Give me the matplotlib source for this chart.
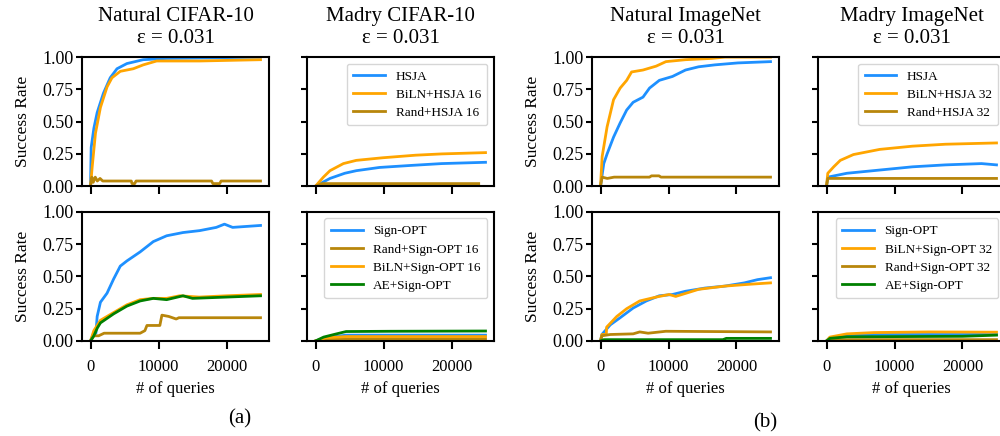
import matplotlib.pyplot as plt

plt.rcParams['font.family'] = ['Liberation Serif', 'DejaVu Serif']

BLUE = '#1E90FF'
ORANGE = '#FFA500'
GOLD = '#B8860B'
GREEN = '#008000'

# ---- (a) Natural CIFAR-10, HSJA family ----
nc_hsja_x = [0, 100, 500, 980, 1900, 2900, 3900, 5350, 7750, 11200, 25000]
nc_hsja_y = [0, 0.30, 0.45, 0.57, 0.72, 0.84, 0.91, 0.95, 0.98, 0.99, 1.00]
nc_biln_x = [0, 250, 730, 1460, 2440, 3160, 4380, 6300, 7760, 9730, 16060, 25000]
nc_biln_y = [0, 0.15, 0.41, 0.61, 0.77, 0.84, 0.89, 0.91, 0.94, 0.97, 0.97, 0.98]
nc_rand_x = [0, 200, 400, 700, 1000, 1400, 1800, 6000, 6100, 6500, 6700, 17800, 18000, 19000, 19200, 25000]
nc_rand_y = [0, 0.07, 0.03, 0.07, 0.04, 0.06, 0.04, 0.04, 0.02, 0.02, 0.04, 0.04, 0.02, 0.02, 0.04, 0.04]

# ---- (a) Natural CIFAR-10, Sign-OPT family ----
nc_sopt_x = [0, 490, 800, 980, 1460, 2430, 3400, 4380, 5350, 7300, 9240, 11200, 13600, 16060, 18500, 19700, 20900, 25000]
nc_sopt_y = [0, 0.06, 0.06, 0.19, 0.30, 0.37, 0.48, 0.58, 0.62, 0.69, 0.77, 0.815, 0.84, 0.855, 0.88, 0.905, 0.88, 0.895]
nc_srand_x = [0, 500, 1200, 2000, 7300, 8000, 8300, 10200, 10500, 11500, 12600, 13000, 25000]
nc_srand_y = [0, 0.04, 0.04, 0.06, 0.06, 0.08, 0.12, 0.12, 0.20, 0.19, 0.17, 0.18, 0.18]
nc_sbiln_x = [0, 490, 1460, 3400, 5350, 7300, 9240, 11200, 13100, 16000, 20000, 25000]
nc_sbiln_y = [0, 0.08, 0.16, 0.22, 0.28, 0.32, 0.33, 0.33, 0.35, 0.34, 0.35, 0.36]
nc_sae_x = [0, 490, 1000, 1460, 3400, 5350, 7300, 9240, 11200, 13600, 15000, 20000, 25000]
nc_sae_y = [0, 0.04, 0.10, 0.14, 0.21, 0.27, 0.31, 0.33, 0.32, 0.35, 0.33, 0.34, 0.35]

# ---- (a) Madry CIFAR-10 ----
mc_hsja_x = [0, 2130, 4300, 6000, 9400, 13800, 18550, 25000]
mc_hsja_y = [0, 0.06, 0.10, 0.12, 0.145, 0.16, 0.175, 0.185]
mc_biln_x = [0, 1160, 2130, 4100, 6000, 9860, 14700, 18550, 25000]
mc_biln_y = [0, 0.07, 0.12, 0.175, 0.20, 0.22, 0.24, 0.25, 0.26]
mc_rand_x = [0, 1000, 24000]
mc_rand_y = [0, 0.02, 0.02]
mc_sopt_x = [0, 1500, 4500, 11000, 25000]
mc_sopt_y = [0, 0.025, 0.045, 0.045, 0.045]
mc_srand_x = [0, 1500, 25000]
mc_srand_y = [0, 0.016, 0.016]
mc_sbiln_x = [0, 1500, 4500, 25000]
mc_sbiln_y = [0, 0.025, 0.034, 0.034]
mc_sae_x = [0, 1200, 3100, 4500, 11000, 25000]
mc_sae_y = [0, 0.03, 0.055, 0.073, 0.075, 0.077]

# ---- (b) Natural ImageNet ----
ni_hsja_x = [0, 480, 970, 1920, 2890, 3850, 4800, 6250, 7210, 8650, 10580, 12500, 14430, 16830, 20200, 25000]
ni_hsja_y = [0, 0.175, 0.25, 0.38, 0.49, 0.59, 0.65, 0.69, 0.76, 0.82, 0.85, 0.90, 0.925, 0.94, 0.955, 0.965]
ni_biln_x = [0, 245, 970, 1920, 2890, 3850, 4570, 6250, 8180, 9620, 12500, 16350, 18300, 25000]
ni_biln_y = [0, 0.23, 0.46, 0.67, 0.76, 0.82, 0.885, 0.90, 0.93, 0.965, 0.98, 0.99, 1.0, 1.0]
ni_rand_x = [0, 245, 1000, 2000, 7200, 7500, 8600, 8900, 25000]
ni_rand_y = [0, 0.07, 0.06, 0.07, 0.07, 0.08, 0.08, 0.07, 0.07]
ni_sopt_x = [0, 200, 1440, 2890, 4800, 6740, 8650, 10580, 12500, 15390, 18280, 21160, 23090, 25000]
ni_sopt_y = [0, 0.05, 0.125, 0.18, 0.255, 0.31, 0.35, 0.36, 0.385, 0.41, 0.425, 0.45, 0.475, 0.49]
ni_srand_x = [0, 200, 1440, 4800, 5770, 7000, 9600, 25000]
ni_srand_y = [0, 0.04, 0.05, 0.055, 0.07, 0.06, 0.075, 0.07]
ni_sbiln_x = [0, 200, 850, 900, 2400, 3850, 5770, 8180, 10100, 11060, 14430, 18280, 22120, 25000]
ni_sbiln_y = [0, 0.05, 0.05, 0.107, 0.19, 0.25, 0.31, 0.34, 0.36, 0.345, 0.40, 0.425, 0.44, 0.45]
ni_sae_x = [0, 500, 18000, 18500, 25000]
ni_sae_y = [0, 0.01, 0.01, 0.02, 0.02]

# ---- (b) Madry ImageNet ----
mi_hsja_x = [0, 190, 3000, 7830, 12650, 17490, 22800, 25000]
mi_hsja_y = [0, 0.07, 0.10, 0.125, 0.15, 0.165, 0.175, 0.165]
mi_biln_x = [0, 190, 1060, 2030, 3960, 7830, 12650, 17490, 25000]
mi_biln_y = [0, 0.10, 0.15, 0.20, 0.245, 0.285, 0.31, 0.325, 0.335]
mi_rand_x = [0, 190, 25000]
mi_rand_y = [0, 0.06, 0.06]
mi_sopt_x = [0, 500, 3000, 7000, 25000]
mi_sopt_y = [0, 0.025, 0.04, 0.05, 0.05]
mi_sbiln_x = [0, 500, 3000, 7000, 15000, 25000]
mi_sbiln_y = [0, 0.03, 0.055, 0.065, 0.07, 0.068]
mi_srand_x = [0, 500, 25000]
mi_srand_y = [0, 0.01, 0.01]
mi_sae_x = [0, 500, 3000, 20000, 25000]
mi_sae_y = [0, 0.02, 0.032, 0.036, 0.045]

titles = ['Natural CIFAR-10\nε = 0.031', 'Madry CIFAR-10\nε = 0.031',
          'Natural ImageNet\nε = 0.031', 'Madry ImageNet\nε = 0.031']
xticks = [0, 10000, 20000]
yticks = [0, 0.25, 0.5, 0.75, 1.0]

# (col, row) -> list of (x, y, color, label)
panels = {
    (0, 0): [(nc_hsja_x, nc_hsja_y, BLUE, 'HSJA'),
             (nc_biln_x, nc_biln_y, ORANGE, 'BiLN+HSJA 16'),
             (nc_rand_x, nc_rand_y, GOLD, 'Rand+HSJA 16')],
    (1, 0): [(mc_hsja_x, mc_hsja_y, BLUE, 'HSJA'),
             (mc_biln_x, mc_biln_y, ORANGE, 'BiLN+HSJA 16'),
             (mc_rand_x, mc_rand_y, GOLD, 'Rand+HSJA 16')],
    (0, 1): [(nc_sopt_x, nc_sopt_y, BLUE, 'Sign-OPT'),
             (nc_srand_x, nc_srand_y, GOLD, 'Rand+Sign-OPT 16'),
             (nc_sbiln_x, nc_sbiln_y, ORANGE, 'BiLN+Sign-OPT 16'),
             (nc_sae_x, nc_sae_y, GREEN, 'AE+Sign-OPT')],
    (1, 1): [(mc_sopt_x, mc_sopt_y, BLUE, 'Sign-OPT'),
             (mc_srand_x, mc_srand_y, GOLD, 'Rand+Sign-OPT 16'),
             (mc_sbiln_x, mc_sbiln_y, ORANGE, 'BiLN+Sign-OPT 16'),
             (mc_sae_x, mc_sae_y, GREEN, 'AE+Sign-OPT')],
    (2, 0): [(ni_hsja_x, ni_hsja_y, BLUE, 'HSJA'),
             (ni_biln_x, ni_biln_y, ORANGE, 'BiLN+HSJA 32'),
             (ni_rand_x, ni_rand_y, GOLD, 'Rand+HSJA 32')],
    (3, 0): [(mi_hsja_x, mi_hsja_y, BLUE, 'HSJA'),
             (mi_biln_x, mi_biln_y, ORANGE, 'BiLN+HSJA 32'),
             (mi_rand_x, mi_rand_y, GOLD, 'Rand+HSJA 32')],
    (2, 1): [(ni_sopt_x, ni_sopt_y, BLUE, 'Sign-OPT'),
             (ni_sbiln_x, ni_sbiln_y, ORANGE, 'BiLN+Sign-OPT 32'),
             (ni_srand_x, ni_srand_y, GOLD, 'Rand+Sign-OPT 32'),
             (ni_sae_x, ni_sae_y, GREEN, 'AE+Sign-OPT')],
    (3, 1): [(mi_sopt_x, mi_sopt_y, BLUE, 'Sign-OPT'),
             (mi_sbiln_x, mi_sbiln_y, ORANGE, 'BiLN+Sign-OPT 32'),
             (mi_srand_x, mi_srand_y, GOLD, 'Rand+Sign-OPT 32'),
             (mi_sae_x, mi_sae_y, GREEN, 'AE+Sign-OPT')],
}

fig = plt.figure(figsize=(10, 4.36), dpi=100)

col_left = [0.082, 0.307, 0.592, 0.818]
row_bottom = [0.573, 0.218]
w, h = 0.187, 0.296

for (c, r), series in panels.items():
    ax = fig.add_axes([col_left[c], row_bottom[r], w, h])
    for x, y, color, label in series:
        ax.plot(x, y, color=color, lw=2, label=label)
    ax.set_ylim(0, 1)
    ax.set_xticks(xticks)
    ax.set_yticks(yticks)
    ax.tick_params(axis='y', direction='out', length=4, width=1.5, pad=2, labelsize=13)
    ax.tick_params(axis='x', direction='out', length=6, width=1.5, pad=7, labelsize=12)
    for s in ax.spines.values():
        s.set_linewidth(1.5)
        s.set_color('black')
    if c in (0, 2):
        ax.set_yticklabels([f'{v:.2f}' for v in yticks])
        ax.set_ylabel('Success Rate', fontsize=12.5, labelpad=8)
    else:
        ax.set_yticklabels([])
        ax.legend(loc='upper right', fontsize=9.5, handlelength=2.4, borderpad=0.5,
                  labelspacing=0.45)
    if r == 0:
        ax.set_xticklabels([])
        ax.set_title(titles[c], fontsize=15, pad=10, linespacing=1.25)
    else:
        ax.set_xticklabels([str(v) for v in xticks])
        ax.set_xlabel('# of queries', fontsize=12)

fig.text(0.240, 0.04, '(a)', fontsize=15, ha='center', va='center')
fig.text(0.765, 0.03, '(b)', fontsize=15, ha='center', va='center')

fig.savefig('out.png', dpi=100)
